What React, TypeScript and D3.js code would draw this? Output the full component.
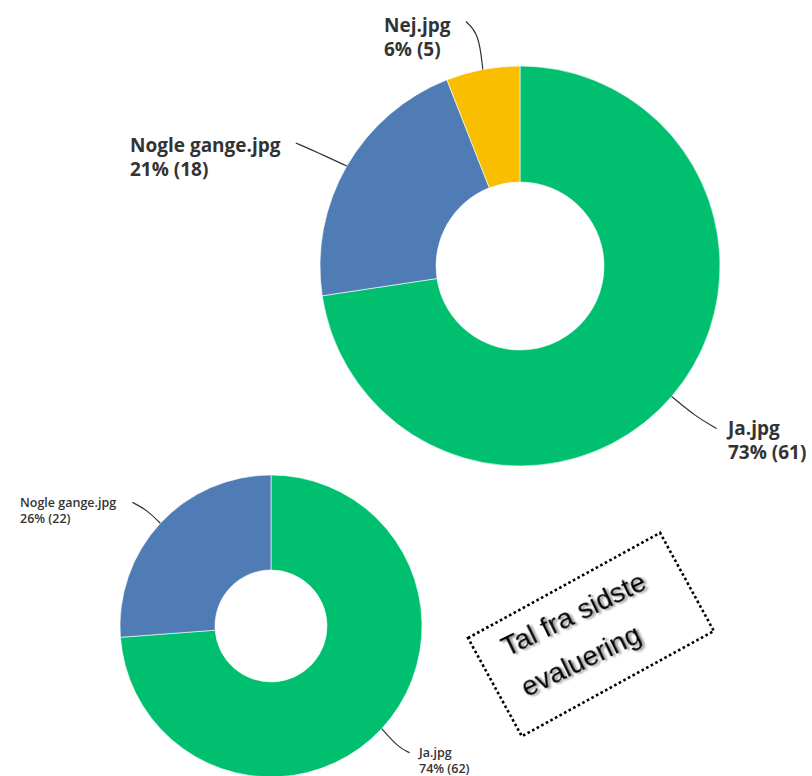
import React from "react";
import * as d3 from "d3";

const categories = ["Ja.jpg", "Nogle gange.jpg", "Nej.jpg"];
const currentCounts = [61, 18, 5];
const currentPercents = [73, 21, 6];
const previousCounts = [62, 22, 0];
const previousPercents = [74, 26, 0];
const colors = ["#00BF6F", "#507CB6", "#F9BE00"];
const noteLines = ["Tal fra sidste", "evaluering"];

type Donut = {
  cx: number; cy: number; r: number; ir: number;
  counts: number[]; percents: number[];
  fontSize: number; weight: number; lineGap: number;
  labels: { [k: string]: { x: number; y: number; path: [number, number][] } };
};

const top: Donut = {
  cx: 520, cy: 266, r: 200, ir: 84,
  counts: currentCounts, percents: currentPercents,
  fontSize: 19, weight: 700, lineGap: 24,
  labels: {
    "Ja.jpg": { x: 728, y: 435, path: [[0, 0], [24, 20], [45, 32]] },
    "Nogle gange.jpg": { x: 130, y: 152, path: [[0, 0], [-28, -13], [-51, -23]] },
    "Nej.jpg": { x: 384, y: 32, path: [[0, 0], [-4, -36], [-17, -48]] },
  },
};

const bottom: Donut = {
  cx: 271, cy: 626, r: 151, ir: 56,
  counts: previousCounts, percents: previousPercents,
  fontSize: 12.5, weight: 600, lineGap: 16,
  labels: {
    "Ja.jpg": { x: 419, y: 757, path: [[0, 0], [17, 19], [28, 24]] },
    "Nogle gange.jpg": { x: 20, y: 507, path: [[0, 0], [-13, -13], [-28, -21]] },
  },
};

function DonutChart({ d }: { d: Donut }) {
  const data = categories.map((c, i) => ({ c, v: d.counts[i], p: d.percents[i], col: colors[i] }));
  const pie = d3.pie<any>().value((x) => x.v).sort(null);
  const arcs = pie(data);
  const arc = d3.arc<any>().innerRadius(d.ir).outerRadius(d.r);
  const line = d3.line().curve(d3.curveBasis);
  return (
    <g>
      <g transform={`translate(${d.cx},${d.cy})`}>
        {arcs.filter((a) => a.data.v > 0).map((a) => (
          <path key={a.data.c} d={arc(a) || ""} fill={a.data.col} stroke="#fff" strokeWidth={0.6} />
        ))}
      </g>
      {arcs.filter((a) => a.data.v > 0).map((a) => {
        const lab = d.labels[a.data.c];
        const mid = (a.startAngle + a.endAngle) / 2;
        const sx = d.cx + Math.sin(mid) * d.r;
        const sy = d.cy - Math.cos(mid) * d.r;
        const pts = lab.path.map(([dx, dy]) => [sx + dx, sy + dy] as [number, number]);
        return (
          <g key={a.data.c}>
            <path d={line(pts) || ""} fill="none" stroke="#333" strokeWidth={1.2} />
            <text x={lab.x} y={lab.y} fontFamily="'Open Sans', sans-serif" fontSize={d.fontSize} fontWeight={d.weight} fill="#333">
              {a.data.c}
            </text>
            <text x={lab.x} y={lab.y + d.lineGap} fontFamily="'Open Sans', sans-serif" fontSize={d.fontSize} fontWeight={d.weight} fill="#333">
              {`${a.data.p}% (${a.data.v})`}
            </text>
          </g>
        );
      })}
    </g>
  );
}

export default function App() {
  return (
    <svg width={812} height={776} style={{ position: "absolute", left: 0, top: 0, background: "#fff" }}>
      <defs>
        <filter id="shadow" x="-10%" y="-30%" width="130%" height="160%">
          <feGaussianBlur in="SourceAlpha" stdDeviation="1.2" />
          <feOffset dx="1.5" dy="1.5" result="b" />
          <feComponentTransfer><feFuncA type="linear" slope="0.45" /></feComponentTransfer>
          <feMerge>
            <feMergeNode />
            <feMergeNode in="SourceGraphic" />
          </feMerge>
        </filter>
      </defs>
      <DonutChart d={top} />
      <DonutChart d={bottom} />
      <g transform="translate(468,638) rotate(-28.7)">
        <rect x={0} y={0} width={219} height={112} fill="none" stroke="#000" strokeWidth={2.6} strokeDasharray="2.6 2.6" />
      </g>
      <g transform="translate(507,657) rotate(-26)" filter="url(#shadow)">
        {noteLines.map((t, i) => (
          <text key={t} x={0} y={i * 45} fontFamily="'Liberation Sans', Arial, sans-serif" fontSize={28} fill="#000">
            {t}
          </text>
        ))}
      </g>
    </svg>
  );
}
